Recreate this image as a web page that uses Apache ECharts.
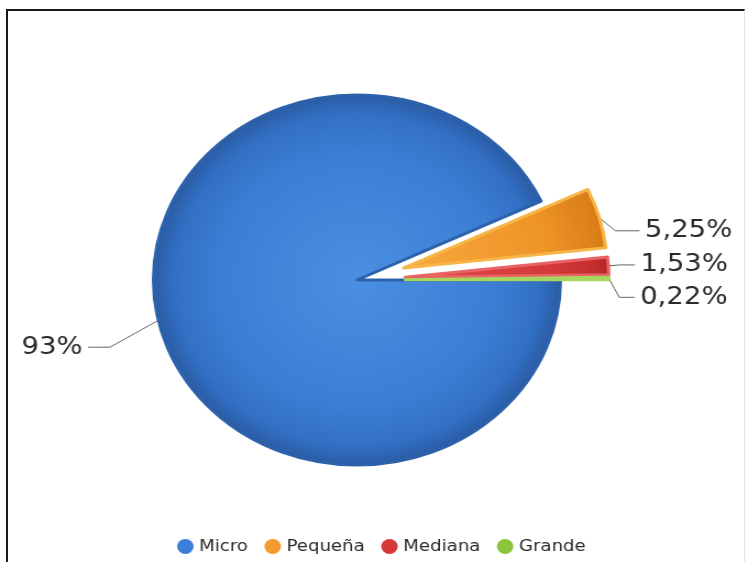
<!DOCTYPE html>
<html><head><meta charset="utf-8">
<script src="https://cdn.jsdelivr.net/npm/echarts@6/dist/echarts.min.js"></script>
<style>
html,body{margin:0;padding:0;background:#fff;width:748px;height:562px;overflow:hidden;}
#frame{position:absolute;left:6px;top:9px;width:736px;height:560px;border-top:2px solid #1a1a1a;border-left:2px solid #1a1a1a;border-right:1px solid #e6e6e6;}
#chart{position:absolute;left:0;top:0;width:680px;height:562px;transform:scaleX(1.1);transform-origin:0 0;}
</style></head><body>
<div id="frame"></div>
<div id="chart"></div>
<script>
// Data
const categories = ['Micro', 'Pequeña', 'Mediana', 'Grande'];
const values = [93, 5.25, 1.53, 0.22];
const exploded = [false, true, true, true];

// Styles
const CX = 324.5, CY = 280, R = 185;
const palette = [
  {stops: ['#4b8fe2', '#3b7dd3', '#3270c4', '#2a5ca4'], border: '#2d62ab', legend: '#3b7dd8'},
  {stops: ['#f6a83e', '#ef9528', '#e0851c', '#d97c16'], border: '#f7b548', legend: '#f39a30'},
  {stops: ['#e04a4a', '#d43a3a', '#c83030', '#b82828'], border: '#e86464', legend: '#d63838'},
  {stops: ['#9bd04f', '#8dc63f', '#80b836', '#74aa2e'], border: '#a6d660', legend: '#8cc43c'}
];
const lineLens = [[45, 20], [15, 22], [15, 14], [15, 14]];
const labelShiftY = [17, 17, 0, 3];
function grad(p) {
  return {
    type: 'radial', x: CX, y: CY, r: R, global: true,
    colorStops: [
      {offset: 0, color: p.stops[0]},
      {offset: 0.7, color: p.stops[1]},
      {offset: 0.9, color: p.stops[2]},
      {offset: 1, color: p.stops[3]}
    ]
  };
}
function fmt(v) { return String(v).replace('.', ',') + '%'; }

const seriesData = categories.map((name, i) => ({
  name: name,
  value: values[i],
  selected: exploded[i],
  itemStyle: {color: grad(palette[i]), borderColor: palette[i].border, borderWidth: 3},
  labelLine: {length: lineLens[i][0], length2: lineLens[i][1]}
}));

function shiftLayout(p) {
  const dy = labelShiftY[p.dataIndex];
  const out = {dy: dy};
  const pts = p.labelLinePoints;
  if (pts && pts.length === 3) {
    out.labelLinePoints = [
      [pts[0][0], pts[0][1]],
      [pts[1][0], pts[1][1] + dy],
      [pts[2][0], pts[2][1] + dy]
    ];
  }
  return out;
}

const chart = echarts.init(document.getElementById('chart'), null, {renderer: 'canvas'});
chart.setOption({
  animation: false,
  legend: {
    data: categories.map((name, i) => ({name: name, itemStyle: {color: palette[i].legend, borderWidth: 0}})),
    left: 161,
    top: 538,
    icon: 'circle',
    itemWidth: 15,
    itemHeight: 15,
    itemGap: 15,
    padding: 0,
    textStyle: {fontFamily: 'DejaVu Sans', fontSize: 16.5, color: '#2a2a2a'}
  },
  series: [{
    type: 'pie',
    center: [CX, CY],
    radius: [0, R],
    startAngle: 0,
    clockwise: true,
    selectedMode: 'multiple',
    selectedOffset: 44,
    emphasis: {scale: false, disabled: true},
    label: {
      formatter: p => fmt(p.value),
      fontFamily: 'DejaVu Sans',
      fontSize: 25,
      color: '#2a2a2a',
      overflow: 'none'
    },
    labelLine: {lineStyle: {color: '#666', width: 1}},
    labelLayout: shiftLayout,
    data: seriesData
  }]
});
</script>
</body></html>
